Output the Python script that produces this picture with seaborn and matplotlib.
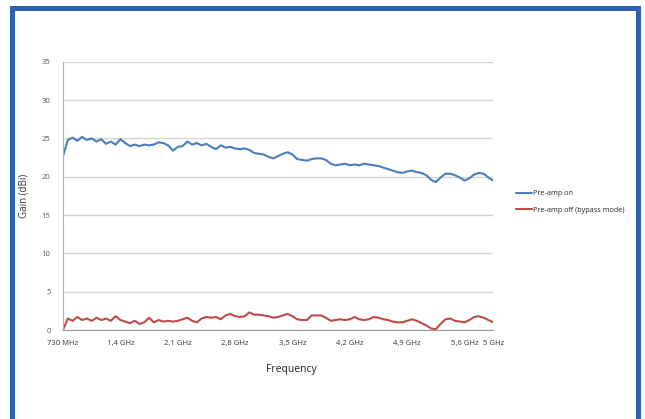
import numpy as np
import pandas as pd
import matplotlib
matplotlib.use('Agg')
import matplotlib.pyplot as plt
import seaborn as sns
from matplotlib.patches import Rectangle
from matplotlib.ticker import MultipleLocator

# gain in dBi, one value per sweep step
gain_on = [22.7, 24.8, 25.1, 24.7, 25.2, 24.8, 25.0, 24.6, 24.9, 24.3,
           24.6, 24.2, 24.9, 24.4, 24.0, 24.2, 24.0, 24.2, 24.1, 24.2,
           24.5, 24.4, 24.1, 23.4, 23.9, 24.0, 24.6, 24.2, 24.4, 24.1,
           24.3, 23.9, 23.6, 24.1, 23.8, 23.9, 23.7, 23.6, 23.7, 23.5,
           23.1, 23.0, 22.9, 22.6, 22.4, 22.7, 23.0, 23.2, 22.9, 22.3,
           22.2, 22.1, 22.3, 22.4, 22.4, 22.2, 21.7, 21.5, 21.6, 21.7,
           21.5, 21.6, 21.5, 21.7, 21.6, 21.5, 21.4, 21.2, 21.0, 20.8,
           20.6, 20.5, 20.7, 20.8, 20.6, 20.5, 20.2, 19.6, 19.3, 19.9,
           20.4, 20.4, 20.2, 19.9, 19.5, 19.8, 20.3, 20.5, 20.4, 19.9,
           19.5]
gain_off = [0.0, 1.5, 1.2, 1.7, 1.3, 1.5, 1.2, 1.6, 1.3, 1.5,
            1.2, 1.8, 1.3, 1.1, 0.9, 1.2, 0.8, 1.0, 1.6, 1.0,
            1.3, 1.1, 1.2, 1.1, 1.2, 1.4, 1.6, 1.2, 1.0, 1.5,
            1.7, 1.6, 1.7, 1.4, 1.9, 2.1, 1.8, 1.7, 1.8, 2.3,
            2.0, 2.0, 1.9, 1.8, 1.6, 1.7, 1.9, 2.1, 1.8, 1.4,
            1.3, 1.3, 1.9, 1.9, 1.9, 1.6, 1.2, 1.3, 1.4, 1.3,
            1.4, 1.7, 1.4, 1.3, 1.4, 1.7, 1.6, 1.4, 1.3, 1.1,
            1.0, 1.0, 1.2, 1.4, 1.2, 0.9, 0.6, 0.2, 0.1, 0.8,
            1.4, 1.5, 1.2, 1.1, 1.0, 1.3, 1.7, 1.8, 1.6, 1.3,
            1.0]
tick_idx = [0, 12, 24, 36, 48, 60, 72, 84, 90]
tick_labels = ['730 MHz', '1,4 GHz', '2,1 GHz', '2,8 GHz', '3,5 GHz',
               '4,2 GHz', '4,9 GHz', '5,6 GHz', '5 GHz']
series_names = ['Pre-amp on', 'Pre-amp off (bypass mode)']

step = np.arange(len(gain_on))
df = pd.DataFrame({
    'step': np.concatenate([step, step]),
    'gain': gain_on + gain_off,
    'series': [series_names[0]] * len(gain_on) + [series_names[1]] * len(gain_off),
})

sns.set_style('white')
plt.rcParams['font.family'] = ['Open Sans', 'DejaVu Sans']

fig = plt.figure(figsize=(6.45, 4.19), dpi=100)
ax = fig.add_axes([0.0977, 0.2124, 0.667, 0.640])

sns.lineplot(data=df, x='step', y='gain', hue='series',
             palette=['#4a7ebb', '#be4b48'], linewidth=1.5, ax=ax, legend=False)

ax.set_xlim(0, len(gain_on) - 1)
ax.set_ylim(0, 35)
ax.set_yticks(range(0, 36, 5))
ax.yaxis.grid(True, color='#d4d4d4', linewidth=1)
ax.xaxis.grid(False)
ax.set_axisbelow(True)

ax.set_xticks(tick_idx)
ax.set_xticklabels(tick_labels)
ax.xaxis.set_minor_locator(MultipleLocator(0.5))
ax.tick_params(axis='x', which='both', length=2.5, width=0.8, color='#8a8a8a',
               labelsize=5.5, labelcolor='#333333', pad=5)
ax.tick_params(axis='y', length=3, color='#c8c8c8', labelsize=5.5,
               labelcolor='#555555', pad=6)

for s in ['top', 'right']:
    ax.spines[s].set_visible(False)
ax.spines['left'].set_color('#b0b0b0')
ax.spines['bottom'].set_color('#9a9a9a')

ax.set_xlabel('Frequency', fontsize=7.5, color='#222222')
ax.set_ylabel('Gain (dBi)', fontsize=7, color='#333333')
ax.xaxis.set_label_coords(0.53, -0.125)
ax.yaxis.set_label_coords(-0.079, 0.5)

handles = [plt.Line2D([], [], color='#4a7ebb', lw=1.5),
           plt.Line2D([], [], color='#be4b48', lw=1.5)]
fig.legend(handles, series_names, loc='center left',
           bbox_to_anchor=(0.790, 0.518), frameon=False, fontsize=5.2,
           handlelength=2.2, handletextpad=0.15, labelspacing=1.3)

# blue slide frame
frame = '#2e62b0'
fig.add_artist(Rectangle((10 / 645, 0), 4.5 / 645, 1 - 6 / 419,
                         transform=fig.transFigure, color=frame, lw=0))
fig.add_artist(Rectangle((636 / 645, 0), 5 / 645, 1 - 6 / 419,
                         transform=fig.transFigure, color=frame, lw=0))
fig.add_artist(Rectangle((10 / 645, 1 - 11 / 419), 631 / 645, 5 / 419,
                         transform=fig.transFigure, color=frame, lw=0))

fig.savefig('out.png', dpi=100)
